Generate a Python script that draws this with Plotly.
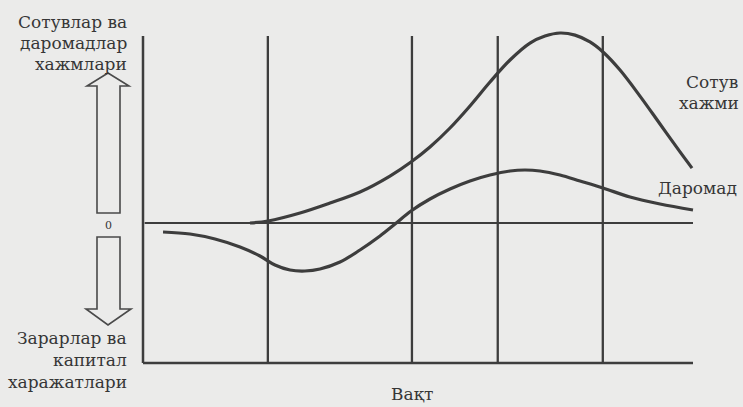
import plotly.graph_objects as go

# ---------------- data ----------------
# time axis: 0..100 (arbitrary units); value axis: sales peak = 100
sales_time = [19.45, 22.73, 28.55, 34.0, 39.45, 44.9, 48.73, 52.18, 55.82, 59.45, 63.09, 66.73, 70.36, 73.09,
              75.82, 78.55, 81.27, 83.64, 86.73, 90.36, 94.0, 97.64, 99.82]
sales_value = [0, 1.05, 5.26, 10.5, 16.3, 24.7, 32.1, 40.0, 50.0, 61.6, 74.2, 85.8, 94.7, 98.4,
               100, 98.9, 95.3, 90.0, 80.5, 66.8, 52.1, 37.4, 28.9]

profit_time = [3.64, 8.55, 13.09, 17.64, 21.27, 24.0, 26.73, 29.45, 32.18, 35.82, 39.45, 43.09, 45.82, 48.73,
               52.18, 55.82, 59.45, 63.09, 66.73, 69.45, 72.18, 75.82, 79.45, 83.64, 88.55, 94.0, 100]
profit_value = [-4.74, -5.79, -8.42, -12.63, -17.37, -22.1, -24.74, -25.26, -24.21, -20.53, -14.21, -6.84, -0.53, 6.32,
                12.63, 17.89, 22.11, 25.26, 27.37, 27.89, 27.37, 25.26, 22.11, 18.42, 13.68, 10.0, 6.84]

stage_boundaries = [22.7, 48.9, 64.5, 83.6]
time_end = 100
axis_top = 98.4
axis_bottom = -73.7

y_label_top = ["Сотувлар ва", "даромадлар", "хажмлари"]
y_label_bottom = ["Зарарлар ва", "капитал", "харажатлари"]
x_label = "Вақт"
sales_label = ["Сотув", "хажми"]
profit_label = "Даромад"

# ---------------- layout helpers ----------------
W, H = 743, 407
def px(x):
    return x / W
def py(y):
    return 1 - y / H

LINE = "#3d3d3d"
TEXT = "#363636"
FONT = "DejaVu Serif"

fig = go.Figure()
fig.add_trace(go.Scatter(x=sales_time, y=sales_value, mode="lines",
                         line=dict(color=LINE, width=3.2, shape="spline", smoothing=1.0),
                         hoverinfo="skip", showlegend=False))
fig.add_trace(go.Scatter(x=profit_time, y=profit_value, mode="lines",
                         line=dict(color=LINE, width=3.2, shape="spline", smoothing=1.0),
                         hoverinfo="skip", showlegend=False))

shapes = []
# axes
shapes.append(dict(type="line", xref="x", yref="y", x0=0, x1=0, y0=axis_bottom, y1=axis_top,
                   line=dict(color=LINE, width=2.5)))
shapes.append(dict(type="line", xref="x", yref="y", x0=0, x1=time_end, y0=axis_bottom, y1=axis_bottom,
                   line=dict(color=LINE, width=2.5)))
shapes.append(dict(type="line", xref="x", yref="y", x0=0.3, x1=time_end, y0=0, y1=0,
                   line=dict(color=LINE, width=2.2)))
for b in stage_boundaries:
    shapes.append(dict(type="line", xref="x", yref="y", x0=b, x1=b, y0=axis_bottom, y1=axis_top,
                       line=dict(color=LINE, width=2.3)))

# double arrow (outline)
def path(points):
    return "M " + " L ".join(f"{px(x):.5f},{py(y):.5f}" for x, y in points) + " Z"

up = [(97, 213), (97, 86), (87, 86), (108, 73), (129, 86), (120, 86), (120, 213)]
down = [(97, 237), (97, 309), (86, 309), (108, 325), (131, 309), (120, 309), (120, 237)]
for pts in (up, down):
    shapes.append(dict(type="path", xref="paper", yref="paper", path=path(pts),
                       line=dict(color="#4a4a4a", width=1.6), fillcolor="rgba(0,0,0,0)"))

annotations = []
def txt(text, x, y, anchor="right", size=17):
    annotations.append(dict(text=text, x=px(x), y=py(y), xref="paper", yref="paper",
                            xanchor=anchor, yanchor="middle", showarrow=False,
                            font=dict(family=FONT, size=size, color=TEXT)))

for t, y in zip(y_label_top, [22, 43, 64]):
    txt(t, 129, y)
for t, y in zip(y_label_bottom, [338, 360, 382]):
    txt(t, 129, y)
txt("0", 108, 225, anchor="center", size=11)
txt(x_label, 412, 394, anchor="center")
txt(sales_label[0], 684, 82, anchor="left")
txt(sales_label[1], 677, 103, anchor="left")
txt(profit_label, 656, 188, anchor="left")

fig.update_layout(
    width=W, height=H,
    margin=dict(l=0, r=0, t=0, b=0),
    paper_bgcolor="#ebebea", plot_bgcolor="#ebebea",
    font=dict(family=FONT),
    xaxis=dict(range=[-26.0, 109.09], visible=False, fixedrange=True),
    yaxis=dict(range=[-96.84, 117.37], visible=False, fixedrange=True),
    shapes=shapes, annotations=annotations,
    showlegend=False,
)

fig.write_html("out.html", config={"displayModeBar": False},
               post_script="document.body.style.margin='0';")
